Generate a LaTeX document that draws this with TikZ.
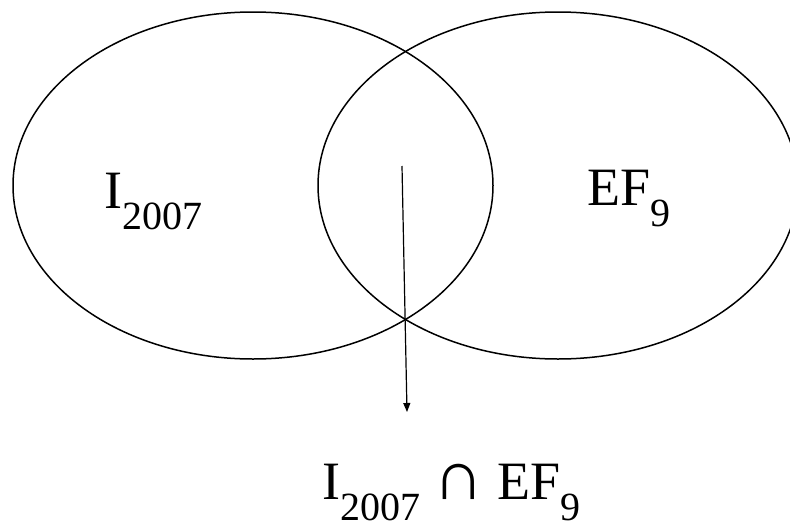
\documentclass[tikz,border=0pt]{standalone}
\usepackage{fontspec}
\setmainfont{Liberation Serif}
\usetikzlibrary{shapes.geometric,arrows.meta}
\newcommand{\mysub}[1]{\raisebox{-21pt}{\fontsize{40}{40}\selectfont #1}}
\newcommand{\mycap}{{\fontsize{70}{70}\selectfont ∩}}
\tikzset{
  setshape/.style={draw, ellipse, line width=1.5pt, inner sep=0pt, minimum width=480pt, minimum height=347pt},
  lbl/.style={inner sep=0pt, anchor=base west, font=\fontsize{54}{54}\selectfont},
  conn/.style={line width=1.2pt, -{Triangle[length=9pt,width=7pt]}}
}
\begin{document}
\begin{tikzpicture}[x=1pt,y=-1pt]
\useasboundingbox (0,0) rectangle (790,530);
\begin{scope}
\clip (0,0) rectangle (790,530);
\node[setshape] (left) at (253,185.5) {};
\node[setshape] (right) at (558,185.5) {};
\end{scope}
\node[lbl] (ltext) at (104,208) {I\mysub{2007}};
\node[lbl] (rtext) at (587,205) {EF\mysub{9}};
\node[lbl] (res) at (322,499) {I\mysub{2007} \mycap{} EF\mysub{9}};
\coordinate (atop) at (402,166);
\coordinate (abot) at (407,412);
\draw[conn] (atop) -- (abot);
\end{tikzpicture}
\end{document}
